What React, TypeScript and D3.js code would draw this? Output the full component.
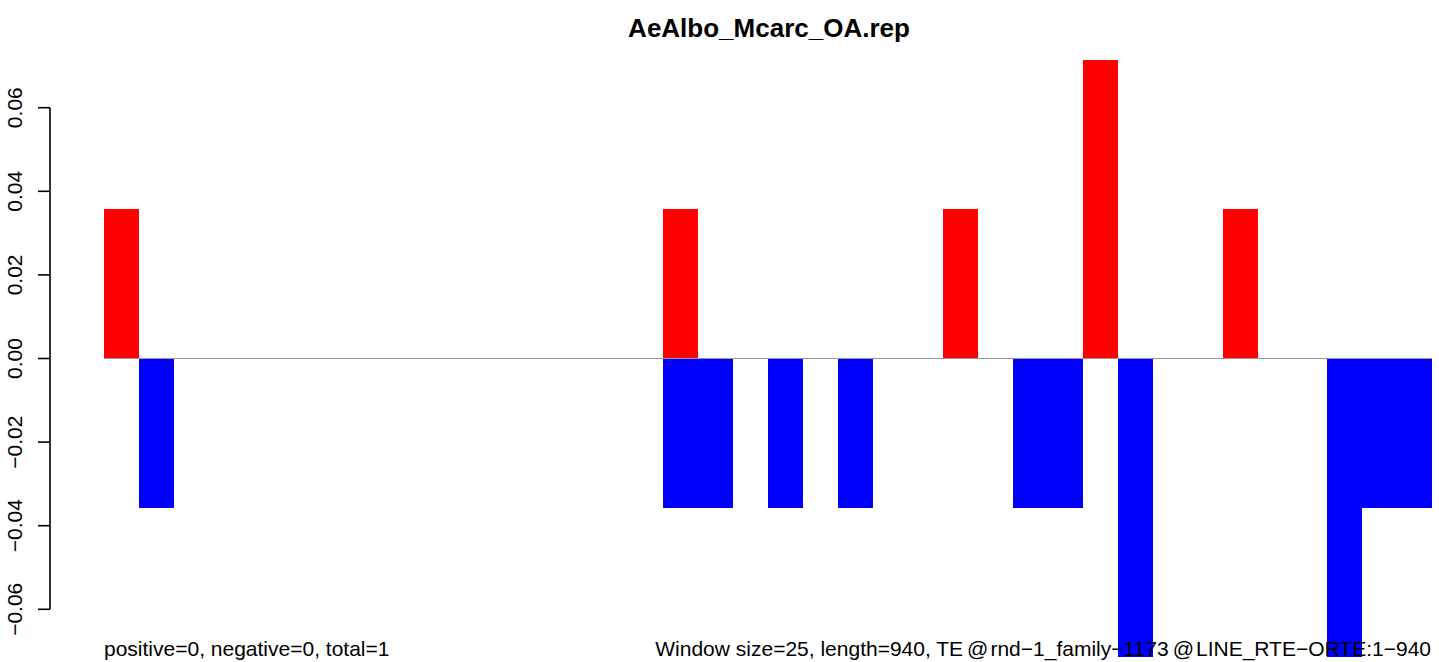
import React from "react";
import * as d3 from "d3";

const title = "AeAlbo_Mcarc_OA.rep";
const windowCount = 38;
// window index -> positive value
const posIndex = [0, 16, 24, 28, 32];
const posValue = [0.0357, 0.0357, 0.0357, 0.0714, 0.0357];
// window index -> negative value
const negIndex = [1, 16, 17, 19, 21, 26, 27, 29, 35, 36, 37];
const negValue = [-0.0357, -0.0357, -0.0357, -0.0357, -0.0357, -0.0357, -0.0357, -0.0714, -0.0714, -0.0357, -0.0357];
const yTicks = [-0.06, -0.04, -0.02, 0, 0.02, 0.04, 0.06];
const leftNote = "positive=0, negative=0, total=1";
const rightNote = "Window size=25, length=940, TE@rnd\u22121_family\u22121173@LINE_RTE\u2212ORTE:1\u2212940";

const W = 1439;
const H = 662;
const FONT = "'Liberation Sans', Arial, Helvetica, sans-serif";

export default function App() {
  const x = d3.scaleLinear().domain([0, windowCount]).range([104, 1432.3]);
  const y = d3.scaleLinear().domain([-0.06, 0.06]).range([609.3, 107.7]);
  const fmt = (v: number) => (v < 0 ? "\u2212" : "") + d3.format(".2f")(Math.abs(v));
  const parts = rightNote.split("@");

  return (
    <svg width={W} height={H} style={{ position: "absolute", left: 0, top: 0, background: "#fff" }}>
      <g shapeRendering="crispEdges">
        {posIndex.map((i, k) => (
          <rect key={"p" + k} x={x(i)} width={x(i + 1) - x(i)} y={y(posValue[k])} height={y(0) - y(posValue[k])} fill="#ff0000" />
        ))}
        {negIndex.map((i, k) => (
          <rect key={"n" + k} x={x(i)} width={x(i + 1) - x(i)} y={y(0)} height={y(negValue[k]) - y(0)} fill="#0000ff" />
        ))}
        <line x1={x(0)} x2={x(windowCount)} y1={y(0)} y2={y(0)} stroke="#999999" strokeWidth={1} />
      </g>
      <line x1={50} x2={50} y1={y(-0.06)} y2={y(0.06)} stroke="#000" strokeWidth={1.6} />
      {yTicks.map((t) => (
        <line key={"t" + t} x1={38} x2={50} y1={y(t)} y2={y(t)} stroke="#000" strokeWidth={1.6} />
      ))}
      {yTicks.map((t) => (
        <text key={"l" + t} transform={`translate(21.5,${y(t)}) rotate(-90)`} textAnchor="middle" fontFamily={FONT} fontSize={21} fill="#000">
          {fmt(t)}
        </text>
      ))}
      <text x={769} y={36.7} textAnchor="middle" fontFamily={FONT} fontSize={26} fontWeight="bold" fill="#000">
        {title}
      </text>
      <text x={104} y={656} textAnchor="start" fontFamily={FONT} fontSize={21} fill="#000">
        {leftNote}
      </text>
      <text x={1431} y={656} textAnchor="end" fontFamily={FONT} fontSize={21} fill="#000">
        {parts.map((p, i) => (
          <React.Fragment key={i}>
            {i > 0 && <tspan dx={4}>@</tspan>}
            <tspan dx={i > 0 ? 2 : 0}>{p}</tspan>
          </React.Fragment>
        ))}
      </text>
    </svg>
  );
}
